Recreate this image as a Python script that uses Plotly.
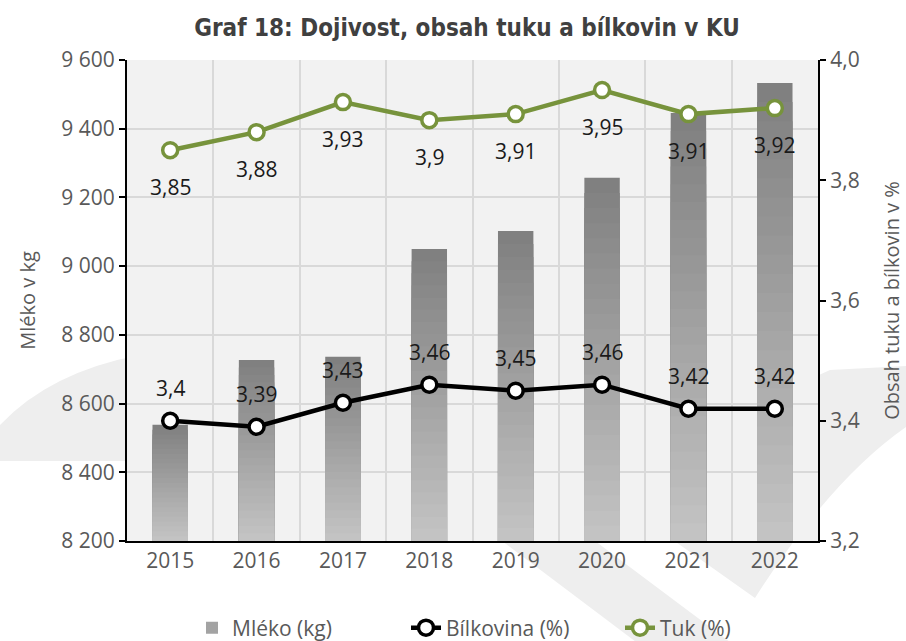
import plotly.graph_objects as go

years = ["2015", "2016", "2017", "2018", "2019", "2020", "2021", "2022"]
mleko = [8538, 8727, 8736, 9050, 9102, 9257, 9446, 9533]
bilkovina = [3.40, 3.39, 3.43, 3.46, 3.45, 3.46, 3.42, 3.42]
tuk = [3.85, 3.88, 3.93, 3.90, 3.91, 3.95, 3.91, 3.92]

left_range = [8200, 9600]
right_range = [3.2, 4.0]
left_ticks = [8200, 8400, 8600, 8800, 9000, 9200, 9400, 9600]
right_ticks = [3.2, 3.4, 3.6, 3.8, 4.0]

W, H = 906, 641
ML, MR, MT, MB = 127, 88, 60, 100
PW, PH = W - ML - MR, H - MT - MB

FONT = "Open Sans, DejaVu Sans, sans-serif"
TXT = "#595959"
GREEN = "#77933c"


def fmt(v):
    return f"{v:g}".replace(".", ",")


def mix(c1, c2, t):
    return "#%02x%02x%02x" % tuple(round(a + (b - a) * t) for a, b in zip(c1, c2))


fig = go.Figure()

# bars with vertical gradient (dark top -> light bottom) via overlaid bars
N = 24
dark, light = (0x80, 0x80, 0x80), (0xc6, 0xc6, 0xc6)
base = left_range[0]
for k in range(N):
    t = k / N
    fig.add_trace(go.Bar(
        x=years,
        y=[base + (v - base) * (1 - t) for v in mleko],
        width=0.41,
        marker=dict(color=mix(dark, light, t), line=dict(width=0)),
        name="Mléko (kg)",
        legendgroup="mleko",
        showlegend=(k == N // 2),
        hoverinfo="skip" if k else "y",
        yaxis="y",
    ))

fig.add_trace(go.Scatter(
    x=years, y=bilkovina, yaxis="y2", mode="lines+markers",
    name="Bílkovina (%)",
    line=dict(color="#000000", width=4.5),
    marker=dict(size=15, color="white", line=dict(color="#000000", width=3.5)),
))
fig.add_trace(go.Scatter(
    x=years, y=tuk, yaxis="y2", mode="lines+markers",
    name="Tuk (%)",
    line=dict(color=GREEN, width=4.5),
    marker=dict(size=15, color="white", line=dict(color=GREEN, width=3.5)),
))

annotations = []
for i, v in enumerate(bilkovina):
    annotations.append(dict(x=i, y=v, xref="x", yref="y2", text=fmt(v),
                            showarrow=False, yshift=33,
                            font=dict(family=FONT, size=21, color="#1a1a1a")))
for i, v in enumerate(tuk):
    annotations.append(dict(x=i, y=v, xref="x", yref="y2", text=fmt(v),
                            showarrow=False, yshift=-37,
                            font=dict(family=FONT, size=21, color="#1a1a1a")))


def P(x, y):
    return f"{(x - ML) / PW:.4f},{(H - MB - y) / PH:.4f}"


WM = "#eeeeee"
shapes = [
    dict(type="path", xref="paper", yref="paper", layer="below", line=dict(width=0), fillcolor=WM,
         path=f"M{P(0, 461)} L{P(140, 461)} L{P(140, 355)} Q{P(50, 372)} {P(0, 425)} Z"),
    dict(type="path", xref="paper", yref="paper", layer="below", line=dict(width=0), fillcolor=WM,
         path=f"M{P(906, 366)} L{P(830, 370)} Q{P(710, 420)} {P(673, 540)} L{P(755, 598)} "
              f"Q{P(830, 480)} {P(906, 427)} Z"),
    dict(type="path", xref="paper", yref="paper", layer="below", line=dict(width=0), fillcolor=WM,
         path=f"M{P(474, 520)} L{P(567, 520)} L{P(754, 660)} L{P(660, 660)} Z"),
    dict(type="rect", xref="paper", yref="paper", layer="below", line=dict(width=0),
         fillcolor="#f2f2f2", x0=0, x1=1, y0=0, y1=1),
]

fig.update_layout(
    width=W, height=H,
    margin=dict(l=ML, r=MR, t=MT, b=MB, autoexpand=False),
    paper_bgcolor="white",
    plot_bgcolor="#f2f2f2",
    separators=", ",
    barmode="overlay",
    font=dict(family=FONT, size=20, color=TXT),
    title=dict(text="<b>Graf 18: Dojivost, obsah tuku a bílkovin v KU</b>",
               x=467 / W, xref="container", xanchor="center",
               y=1 - 28 / H, yref="container", yanchor="middle",
               font=dict(family="Noto Sans ExtraCondensed, Noto Sans Condensed, DejaVu Sans Condensed, sans-serif",
                         size=24, color="#404040")),
    xaxis=dict(
        type="category", tickson="boundaries", showgrid=True, gridcolor="#d9d9d9", gridwidth=2,
        showline=True, linecolor="black", linewidth=2, ticks="", ticklen=0,
        tickfont=dict(size=21, color=TXT), range=[-0.5, 7.5],
    ),
    yaxis=dict(
        range=left_range, tickvals=left_ticks, tickformat=",d",
        showgrid=True, gridcolor="#d9d9d9", gridwidth=2, zeroline=False,
        showline=True, linecolor="black", linewidth=2,
        ticks="outside", ticklen=6, tickcolor="black", tickwidth=2,
        tickfont=dict(size=21, color=TXT),
        title=dict(text="Mléko v kg", font=dict(size=20, color=TXT), standoff=20),
    ),
    yaxis2=dict(
        range=right_range, tickvals=right_ticks, tickformat=".1f",
        overlaying="y", side="right", showgrid=False, zeroline=False,
        showline=True, linecolor="black", linewidth=2,
        ticks="outside", ticklen=6, tickcolor="black", tickwidth=2,
        tickfont=dict(size=21, color=TXT),
        title=dict(text="Obsah tuku a bílkovin v %", font=dict(size=20, color=TXT), standoff=26),
    ),
    legend=dict(orientation="h", x=(192 - ML) / PW, xanchor="left",
                y=(H - MB - 628) / PH, yanchor="middle",
                font=dict(size=21, color=TXT), bgcolor="rgba(0,0,0,0)",
                traceorder="normal", entrywidth=169, entrywidthmode="pixels"),
    annotations=annotations,
    shapes=shapes,
    showlegend=True,
)

fig.write_html("out.html", config={"displayModeBar": False},
               post_script="document.body.style.margin='0';")
